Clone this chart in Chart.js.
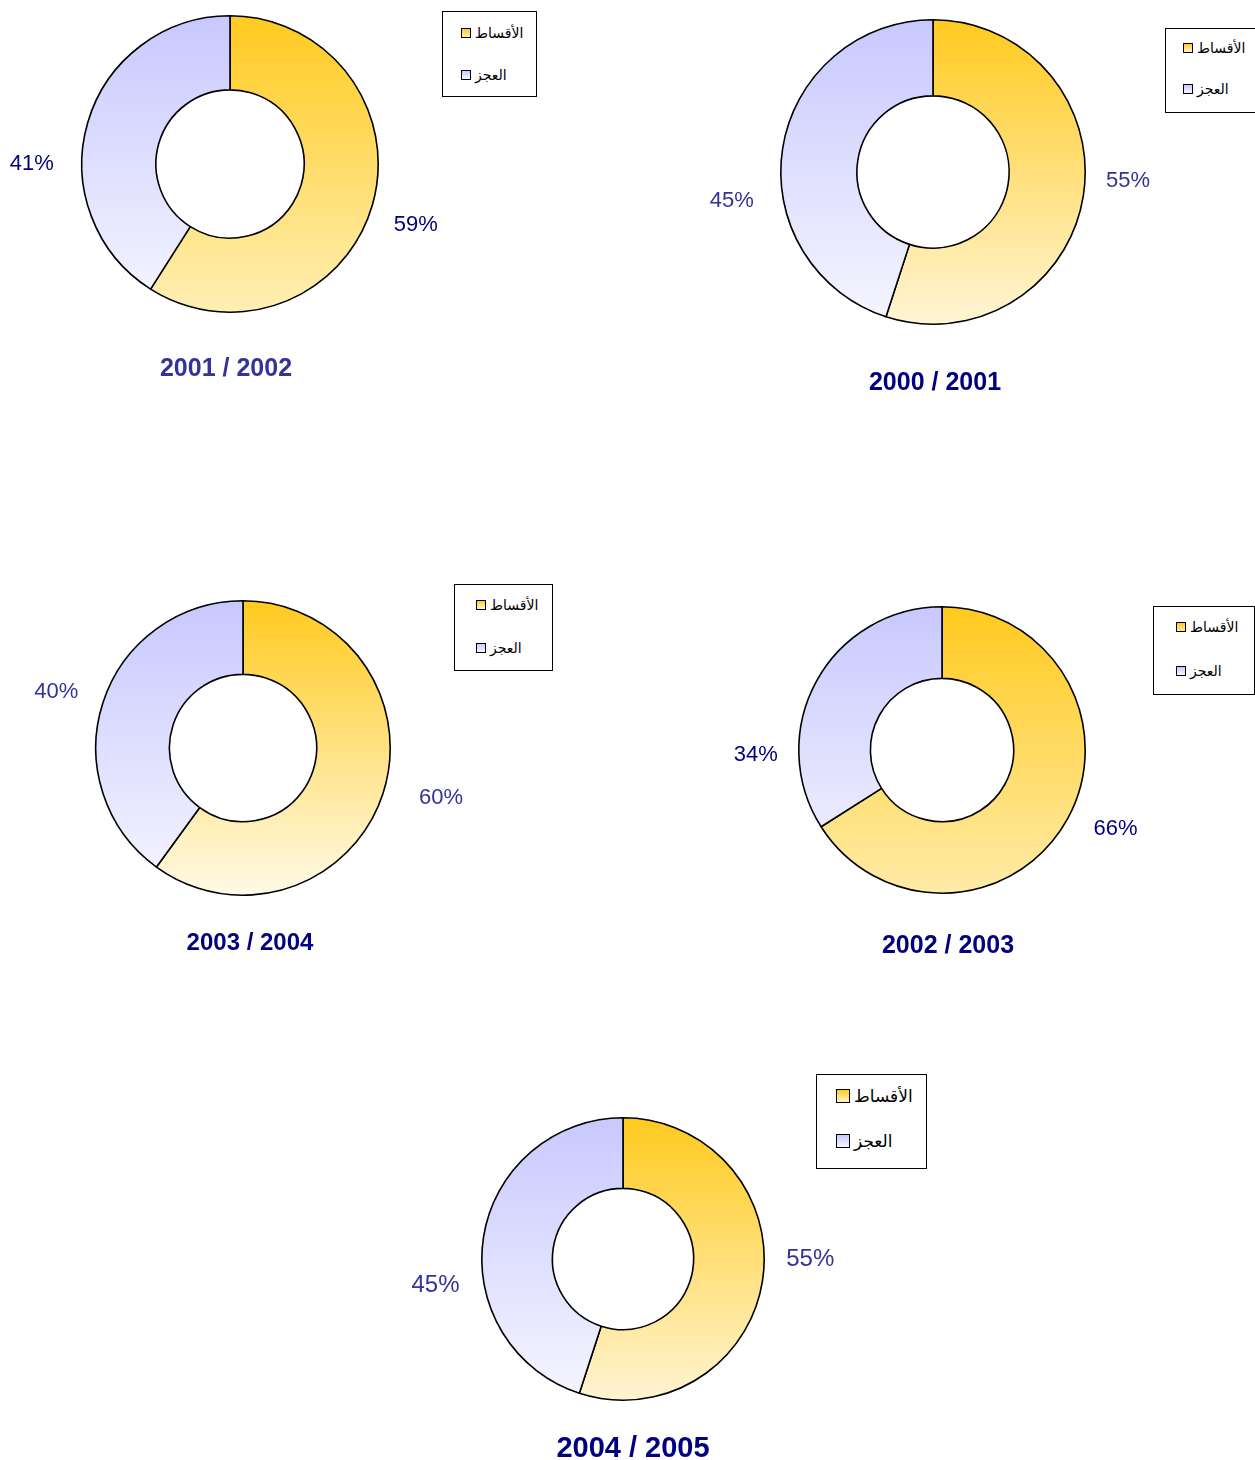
<!DOCTYPE html>
<html>
<head>
<meta charset="UTF-8">
<title>الأقساط والعجز</title>
<script src="https://cdn.jsdelivr.net/npm/chart.js"></script>
<style>
body{
  margin:0;
  width:1255px;
  height:1460px;
  position:relative;
  overflow:hidden;
  background:#fff;
  font-family:'Liberation Sans',Arial,sans-serif;
}
canvas{position:absolute;}
.title{
  position:absolute;
  font-weight:bold;
  white-space:nowrap;
  transform:translate(-50%,-50%);
}
.legend{
  position:absolute;
  border:1px solid #000;
  background:#fff;
  box-sizing:border-box;
}
.legend .row{
  position:absolute;
  display:flex;
  align-items:center;
  white-space:nowrap;
  font-family:'DejaVu Sans','Liberation Sans',sans-serif;
  color:#000;
}
.legend .sq{
  border:1px solid #000;
  box-sizing:border-box;
  margin-right:4px;
}
</style>
</head>
<body>

<script>
// data
const seriesLabels = ['الأقساط','العجز'];
const years = ['2001 / 2002','2000 / 2001','2003 / 2004','2002 / 2003','2004 / 2005'];
const installments = [59,55,60,66,55];
const deficit = [41,45,40,34,45];

// layout of each panel (same order as years)
const panels = [
  {cx:230, cy:164, r:149, low:'#FFEFB5', lblColor:'#000080', lblSize:22, nudge:[1.6,-16], gap:[47,50],
   titleX:226, titleY:367, titleSize:25, titleColor:'#333399',
   leg:{x:442, y:11, w:95, h:86, rows:[21,63], sq:10, font:14, sx:18}},
  {cx:933, cy:172, r:153, low:'#FFF5D6', lblColor:'#333399', lblSize:22, nudge:[-6.7,-17], gap:[43,51],
   titleX:935, titleY:381, titleSize:25, titleColor:'#000080',
   leg:{x:1165, y:28, w:100, h:85, rows:[19,60], sq:10, font:14, sx:17}},
  {cx:243, cy:748, r:148, low:'#FFFAE8', lblColor:'#333399', lblSize:22, nudge:[-4,-1], gap:[57,48],
   titleX:250, titleY:942, titleSize:24, titleColor:'#000080',
   leg:{x:454, y:584, w:99, h:87, rows:[20,63], sq:10, font:14, sx:21}},
  {cx:942, cy:750, r:144, low:'#FFEBA8', lblColor:'#000080', lblSize:22, nudge:[-4.7,-30], gap:[47,43],
   titleX:948, titleY:944, titleSize:25, titleColor:'#000080',
   leg:{x:1153, y:606, w:102, h:89, rows:[20,64], sq:10, font:14, sx:22}},
  {cx:623, cy:1259, r:142, low:'#FFF4D2', lblColor:'#333399', lblSize:24, nudge:[-9.3,-16.6], gap:[46,48],
   titleX:633, titleY:1447, titleSize:29, titleColor:'#000080',
   leg:{x:816, y:1074, w:111, h:95, rows:[21,66], sq:14, font:17, sx:19}}
];

const PAD = 82;

const pctLabels = {
  id:'pctLabels',
  afterDatasetsDraw(chart, args, opts){
    const ctx = chart.ctx;
    const meta = chart.getDatasetMeta(0);
    const vals = chart.data.datasets[0].data;
    const total = vals.reduce((a,b)=>a+b,0);
    ctx.save();
    ctx.font = opts.size + 'px "Liberation Sans", Arial, sans-serif';
    ctx.fillStyle = opts.color;
    ctx.textAlign = 'center';
    ctx.textBaseline = 'middle';
    meta.data.forEach((arc,i)=>{
      const p = arc.getProps(['x','y','startAngle','endAngle','outerRadius'],true);
      const a = (p.startAngle + p.endAngle)/2 + opts.nudge[i]*Math.PI/180;
      const d = p.outerRadius + opts.gap[i];
      const pct = Math.round(vals[i]/total*100) + '%';
      ctx.fillText(pct, p.x + Math.cos(a)*d, p.y + Math.sin(a)*d + 1);
    });
    ctx.restore();
  }
};

function makeGrad(chart, top, bottom){
  const area = chart.chartArea;
  if(!area) return top;
  const g = chart.ctx.createLinearGradient(0, area.top, 0, area.bottom);
  g.addColorStop(0, top);
  g.addColorStop(1, bottom);
  return g;
}

panels.forEach((p,k)=>{
  const size = 2*(p.r + PAD);
  const cv = document.createElement('canvas');
  cv.width = size; cv.height = size;
  cv.style.left = (p.cx - p.r - PAD) + 'px';
  cv.style.top = (p.cy - p.r - PAD) + 'px';
  document.body.appendChild(cv);

  new Chart(cv, {
    type:'doughnut',
    data:{
      labels:seriesLabels,
      datasets:[{
        data:[installments[k], deficit[k]],
        backgroundColor:(c)=> c.dataIndex === 0
          ? makeGrad(c.chart, '#FFCA1E', p.low)
          : makeGrad(c.chart, '#C8C8FF', '#F6F6FF'),
        borderColor:'#000',
        borderWidth:1.6,
        borderAlign:'center'
      }]
    },
    options:{
      responsive:false,
      animation:false,
      cutout:'50%',
      layout:{padding:PAD},
      plugins:{
        legend:{display:false},
        tooltip:{enabled:false},
        pctLabels:{color:p.lblColor, size:p.lblSize, nudge:p.nudge, gap:p.gap}
      }
    },
    plugins:[pctLabels]
  });

  // title
  const t = document.createElement('div');
  t.className = 'title';
  t.textContent = years[k];
  t.style.left = p.titleX + 'px';
  t.style.top = p.titleY + 'px';
  t.style.fontSize = p.titleSize + 'px';
  t.style.color = p.titleColor;
  document.body.appendChild(t);

  // legend box
  const L = p.leg;
  const box = document.createElement('div');
  box.className = 'legend';
  box.style.left = L.x + 'px';
  box.style.top = L.y + 'px';
  box.style.width = L.w + 'px';
  box.style.height = L.h + 'px';
  const fills = [
    'linear-gradient(#FFCA1E,' + p.low + ')',
    'linear-gradient(#C8C8FF,#F6F6FF)'
  ];
  seriesLabels.forEach((name,i)=>{
    const row = document.createElement('div');
    row.className = 'row';
    row.style.left = L.sx + 'px';
    row.style.top = (L.rows[i] - L.font*0.7) + 'px';
    row.style.height = (L.font*1.4) + 'px';
    row.style.fontSize = L.font + 'px';
    const sq = document.createElement('span');
    sq.className = 'sq';
    sq.style.width = L.sq + 'px';
    sq.style.height = L.sq + 'px';
    sq.style.background = fills[i];
    const tx = document.createElement('span');
    tx.textContent = name;
    tx.dir = 'rtl';
    row.appendChild(sq);
    row.appendChild(tx);
    box.appendChild(row);
  });
  document.body.appendChild(box);
});
</script>

</body>
</html>
